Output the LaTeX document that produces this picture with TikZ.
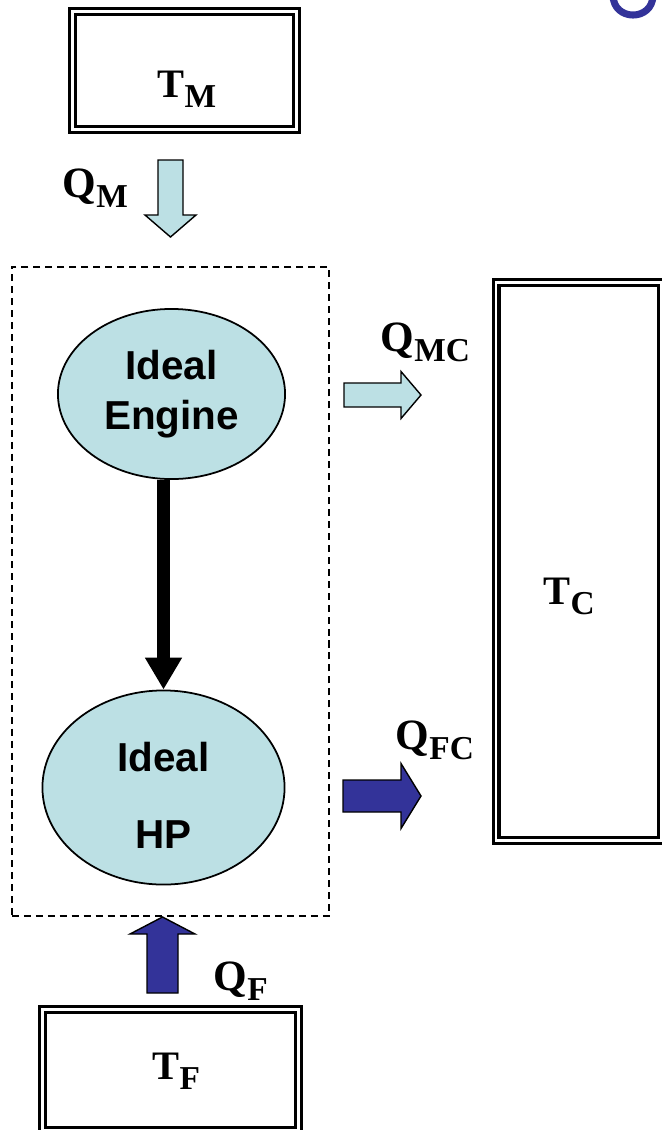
\documentclass[tikz,border=0pt]{standalone}
\usepackage{fontspec}
\setmainfont{Liberation Serif}
\setsansfont{Liberation Sans}
\usepackage{tikz}
\usetikzlibrary{shapes.geometric, arrows.meta}
\definecolor{heatlight}{RGB}{188,224,228}
\definecolor{heatdark}{RGB}{51,51,153}
\tikzstyle{reservoir} = [rectangle, draw=black, line width=0.9pt, double, double distance=0.7pt, inner sep=0pt]
\tikzstyle{machine} = [ellipse, draw=black, line width=0.5pt, fill=heatlight, inner sep=0pt, align=center, font=\sffamily\bfseries\fontsize{11.5}{14.2}\selectfont]
\tikzstyle{system} = [rectangle, draw=black, line width=0.5pt, dash pattern=on 2pt off 1.4pt, inner sep=0pt]
\tikzstyle{work} = [line width=3.7pt, -{Triangle[width=0.35cm, length=0.32cm]}]
\tikzstyle{heatlab} = [anchor=base west, inner sep=0pt, font=\bfseries]
\tikzstyle{lightflow} = [draw=black, line width=0.4pt, fill=heatlight]
\tikzstyle{darkflow} = [draw=black, line width=0.4pt, fill=heatdark]
% symbol with lowered subscript
\newcommand{\heatsym}[3]{{\fontsize{#1}{#1}\selectfont #2}\raisebox{-3pt}{\fontsize{9.5}{9.5}\selectfont #3}}
% block arrow: style, tail, angle, length, head length, half shaft, half head
\newcommand{\blockarrow}[7]{%
  \begin{scope}[shift={(#2)}, rotate=#3]
    \draw[#1] (0,-#6) -- (#4-#5,-#6) -- (#4-#5,-#7) -- (#4,0) -- (#4-#5,#7) -- (#4-#5,#6) -- (0,#6) -- cycle;
  \end{scope}}

\begin{document}
\begin{tikzpicture}[x=0.01cm, y=-0.01cm]
\useasboundingbox (0,0) rectangle (662,1130);

\node (tm) [reservoir, minimum width=2.24cm, minimum height=1.18cm] at (184.5,70.5) {};
\node (tc) [reservoir, minimum width=1.65cm, minimum height=5.58cm] at (578.7,561.5) {};
\node (tf) [reservoir, minimum width=2.56cm, minimum height=1.21cm] at (170.5,1070) {};
\node (sys) [system, minimum width=3.17cm, minimum height=6.49cm] at (170.5,591.5) {};

\node (engine) [machine, minimum width=2.27cm, minimum height=1.70cm] at (171.5,394) {Ideal\\Engine};
\node (hp) [machine, minimum width=2.42cm, minimum height=1.94cm] at (163.5,787.5) {\rule{0pt}{13pt}Ideal\\[7.7pt]HP};

\draw [work] (engine.south -| hp.north) -- (hp.north);

\coordinate (qmtail) at (170.5,160);
\coordinate (qmctail) at (344,395);
\coordinate (qfctail) at (343,796);
\coordinate (qftail) at (162.5,993);
\blockarrow{lightflow}{qmtail}{-90}{77}{22}{12.5}{25.5}
\blockarrow{lightflow}{qmctail}{0}{77}{20}{12}{23.5}
\blockarrow{darkflow}{qfctail}{0}{78}{20}{16}{32.5}
\blockarrow{darkflow}{qftail}{90}{76}{17}{15.5}{32.5}

\node (tmlab) [heatlab] at (157,97) {\heatsym{11.5}{T}{M}};
\node (tclab) [heatlab] at (543,604) {\heatsym{11.5}{T}{C}};
\node (tflab) [heatlab] at (152,1079) {\heatsym{11.5}{T}{F}};
\node (qm) [heatlab] at (62,197) {\heatsym{12.3}{Q}{M}};
\node (qmc) [heatlab] at (380,351) {\heatsym{12.3}{Q}{MC}};
\node (qfc) [heatlab] at (395,749) {\heatsym{12.3}{Q}{FC}};
\node (qf) [heatlab] at (213,990) {\heatsym{12.3}{Q}{F}};

% cut title letter
\draw [heatdark, line width=2pt] (613,-5) .. controls (613,21.7) and (653,21.7) .. (653,-5);
\end{tikzpicture}
\end{document}
